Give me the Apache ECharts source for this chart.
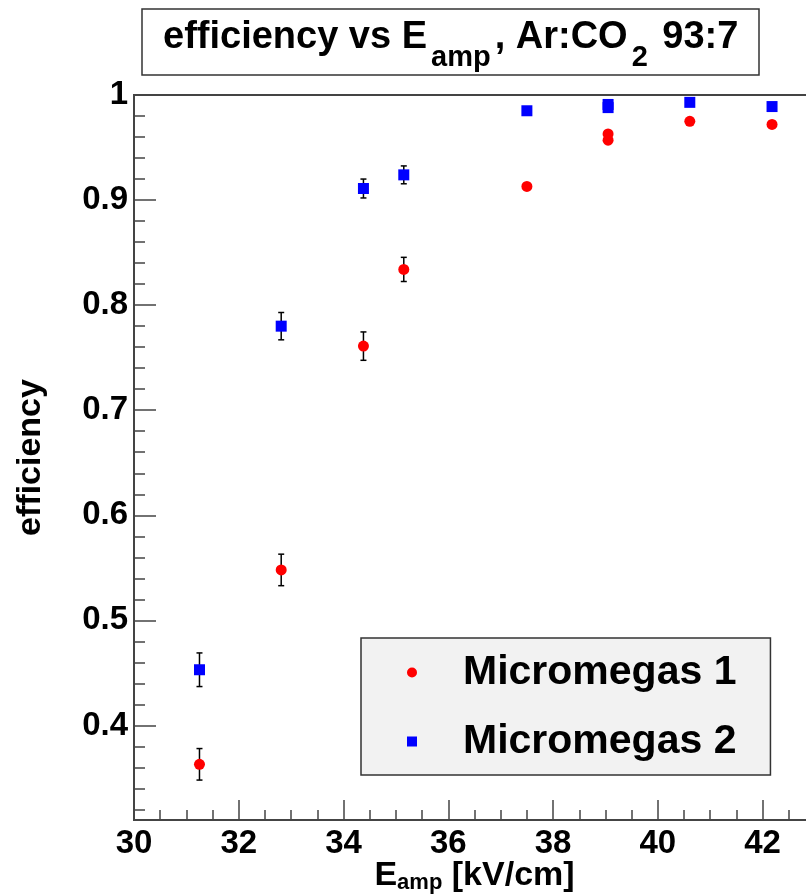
<!DOCTYPE html>
<html>
<head>
<meta charset="utf-8">
<script src="https://cdn.jsdelivr.net/npm/echarts@6/dist/echarts.min.js"></script>
<style>
  html, body { margin: 0; padding: 0; background: #fff; }
  #chart { width: 806px; height: 895px; }
</style>
</head>
<body>
<div id="chart"></div>
<script>
// E_amp values (kV/cm) and measured efficiencies
var eAmp1 = [31.25, 32.81, 34.38, 35.15, 37.5, 39.05, 39.05, 40.61, 42.18];
var eff1 = [0.363, 0.548, 0.761, 0.834, 0.913, 0.963, 0.957, 0.975, 0.972];
var err1 = [0.015, 0.015, 0.0135, 0.0115, 0.003, 0.003, 0.003, 0.002, 0.002];

var eAmp2 = [31.25, 32.81, 34.38, 35.15, 37.5, 39.05, 39.05, 40.61, 42.18];
var eff2 = [0.453, 0.780, 0.911, 0.924, 0.985, 0.991, 0.988, 0.993, 0.989];
var err2 = [0.016, 0.013, 0.009, 0.0085, 0.002, 0.002, 0.002, 0.001, 0.002];

// axis ticks
var xTicks = [30, 32, 34, 36, 38, 40, 42];
var yTicks = [0.4, 0.5, 0.6, 0.7, 0.8, 0.9, 1];

(function () {
    var font = "'Liberation Sans', Arial, Helvetica, sans-serif";
    var axisColor = '#444';

    // minor tick positions
    var xMinor = [];
    for (var i = 0; i <= 26; i++) {
        var v = 30 + i * 0.5;
        if (v % 2 !== 0) xMinor.push(v);
    }
    var yMinor = [];
    for (var j = 16; j <= 49; j++) {
        var w = +(j * 0.02).toFixed(2);
        if (Math.round(w * 100) % 10 !== 0) yMinor.push(w);
    }

    function pairs(xs, ys, es) {
        return xs.map(function (x, k) { return [x, ys[k], es[k]]; });
    }

    function errorBar(params, api) {
        var x = api.value(0), y = api.value(1), e = api.value(2);
        var hi = api.coord([x, y + e]);
        var lo = api.coord([x, y - e]);
        var cap = 3;
        var style = { stroke: '#000', lineWidth: 1.5 };
        return {
            type: 'group',
            children: [
                { type: 'line', shape: { x1: hi[0], y1: hi[1], x2: lo[0], y2: lo[1] }, style: style },
                { type: 'line', shape: { x1: hi[0] - cap, y1: hi[1], x2: hi[0] + cap, y2: hi[1] }, style: style },
                { type: 'line', shape: { x1: lo[0] - cap, y1: lo[1], x2: lo[0] + cap, y2: lo[1] }, style: style }
            ]
        };
    }

    var myChart = echarts.init(document.getElementById('chart'));
    var option = {
        animation: false,
        textStyle: { fontFamily: font },
        title: {
            text: '{t|efficiency vs E}{s|amp}{t|, Ar:CO}{s|2}{t| 93:7}',
            left: 142,
            top: 9,
            padding: [10, 21, 3, 21],
            borderColor: '#333',
            borderWidth: 1.5,
            backgroundColor: '#fff',
            textStyle: {
                rich: {
                    t: { fontSize: 38, fontWeight: 'bold', color: '#000', lineHeight: 38, verticalAlign: 'top', fontFamily: font },
                    s: { fontSize: 29, fontWeight: 'bold', color: '#000', lineHeight: 38, verticalAlign: 'top', padding: [24, 4, 0, 4], fontFamily: font }
                }
            }
        },
        legend: {
            orient: 'vertical',
            left: 361,
            top: 638,
            padding: [14, 34, 13, 46],
            itemWidth: 10,
            itemHeight: 10,
            itemGap: 28,
            selectedMode: false,
            backgroundColor: '#f2f2f2',
            borderColor: '#333',
            borderWidth: 1.5,
            textStyle: { fontSize: 41, fontWeight: 'bold', color: '#000', lineHeight: 40, padding: [0, 0, 0, 41] },
            data: [
                { name: 'Micromegas 1', icon: 'circle' },
                { name: 'Micromegas 2', icon: 'rect' }
            ]
        },
        grid: {
            left: 134,
            right: -9,
            top: 95,
            bottom: 75,
            show: true,
            borderColor: axisColor,
            borderWidth: 2,
            containLabel: false,
            outerBoundsMode: 'none'
        },
        xAxis: [
            {
                type: 'value',
                min: 30,
                max: 43,
                splitLine: { show: false },
                axisLine: { lineStyle: { color: axisColor, width: 2 } },
                axisTick: { inside: true, length: 20, customValues: xTicks, lineStyle: { color: axisColor, width: 1.5 } },
                axisLabel: { customValues: xTicks, margin: 7, fontSize: 33, fontWeight: 'bold', color: '#000' },
                name: '{e|E}{s|amp}{e| [kV/cm]}',
                nameLocation: 'middle',
                nameGap: 39,
                nameMoveOverlap: false,
                nameTextStyle: {
                    rich: {
                        e: { fontSize: 34, fontWeight: 'bold', color: '#000', lineHeight: 34, verticalAlign: 'top', fontFamily: font },
                        s: { fontSize: 22, fontWeight: 'bold', color: '#000', lineHeight: 34, verticalAlign: 'top', padding: [13, 0, 0, 0], fontFamily: font }
                    }
                }
            },
            {
                type: 'value',
                position: 'bottom',
                min: 30,
                max: 43,
                splitLine: { show: false },
                axisLine: { show: false },
                axisLabel: { show: false },
                axisTick: { inside: true, length: 10, customValues: xMinor, lineStyle: { color: axisColor, width: 1.5 } }
            }
        ],
        yAxis: [
            {
                type: 'value',
                min: 0.31,
                max: 1.0,
                splitLine: { show: false },
                axisLine: { lineStyle: { color: axisColor, width: 2 } },
                axisTick: { inside: true, length: 22, customValues: yTicks, lineStyle: { color: axisColor, width: 1.5 } },
                axisLabel: { customValues: yTicks, margin: 6, fontSize: 33, fontWeight: 'bold', color: '#000' },
                name: 'efficiency',
                nameLocation: 'middle',
                nameRotate: 90,
                nameGap: 86,
                nameMoveOverlap: false,
                nameTextStyle: { fontSize: 34, fontWeight: 'bold', color: '#000' }
            },
            {
                type: 'value',
                position: 'left',
                min: 0.31,
                max: 1.0,
                splitLine: { show: false },
                axisLine: { show: false },
                axisLabel: { show: false },
                axisTick: { inside: true, length: 11, customValues: yMinor, lineStyle: { color: axisColor, width: 1.5 } }
            }
        ],
        series: [
            {
                name: 'err1',
                type: 'custom',
                renderItem: errorBar,
                encode: { x: 0, y: 1 },
                data: pairs(eAmp1, eff1, err1),
                z: 1
            },
            {
                name: 'err2',
                type: 'custom',
                renderItem: errorBar,
                encode: { x: 0, y: 1 },
                data: pairs(eAmp2, eff2, err2),
                z: 1
            },
            {
                name: 'Micromegas 1',
                type: 'scatter',
                symbol: 'circle',
                symbolSize: 11,
                itemStyle: { color: '#ff0000', opacity: 1 },
                data: eAmp1.map(function (x, k) { return [x, eff1[k]]; }),
                z: 3
            },
            {
                name: 'Micromegas 2',
                type: 'scatter',
                symbol: 'rect',
                symbolSize: 11,
                itemStyle: { color: '#0000ff', opacity: 1 },
                data: eAmp2.map(function (x, k) { return [x, eff2[k]]; }),
                z: 3
            }
        ]
    };
    myChart.setOption(option);
})();
</script>
</body>
</html>
